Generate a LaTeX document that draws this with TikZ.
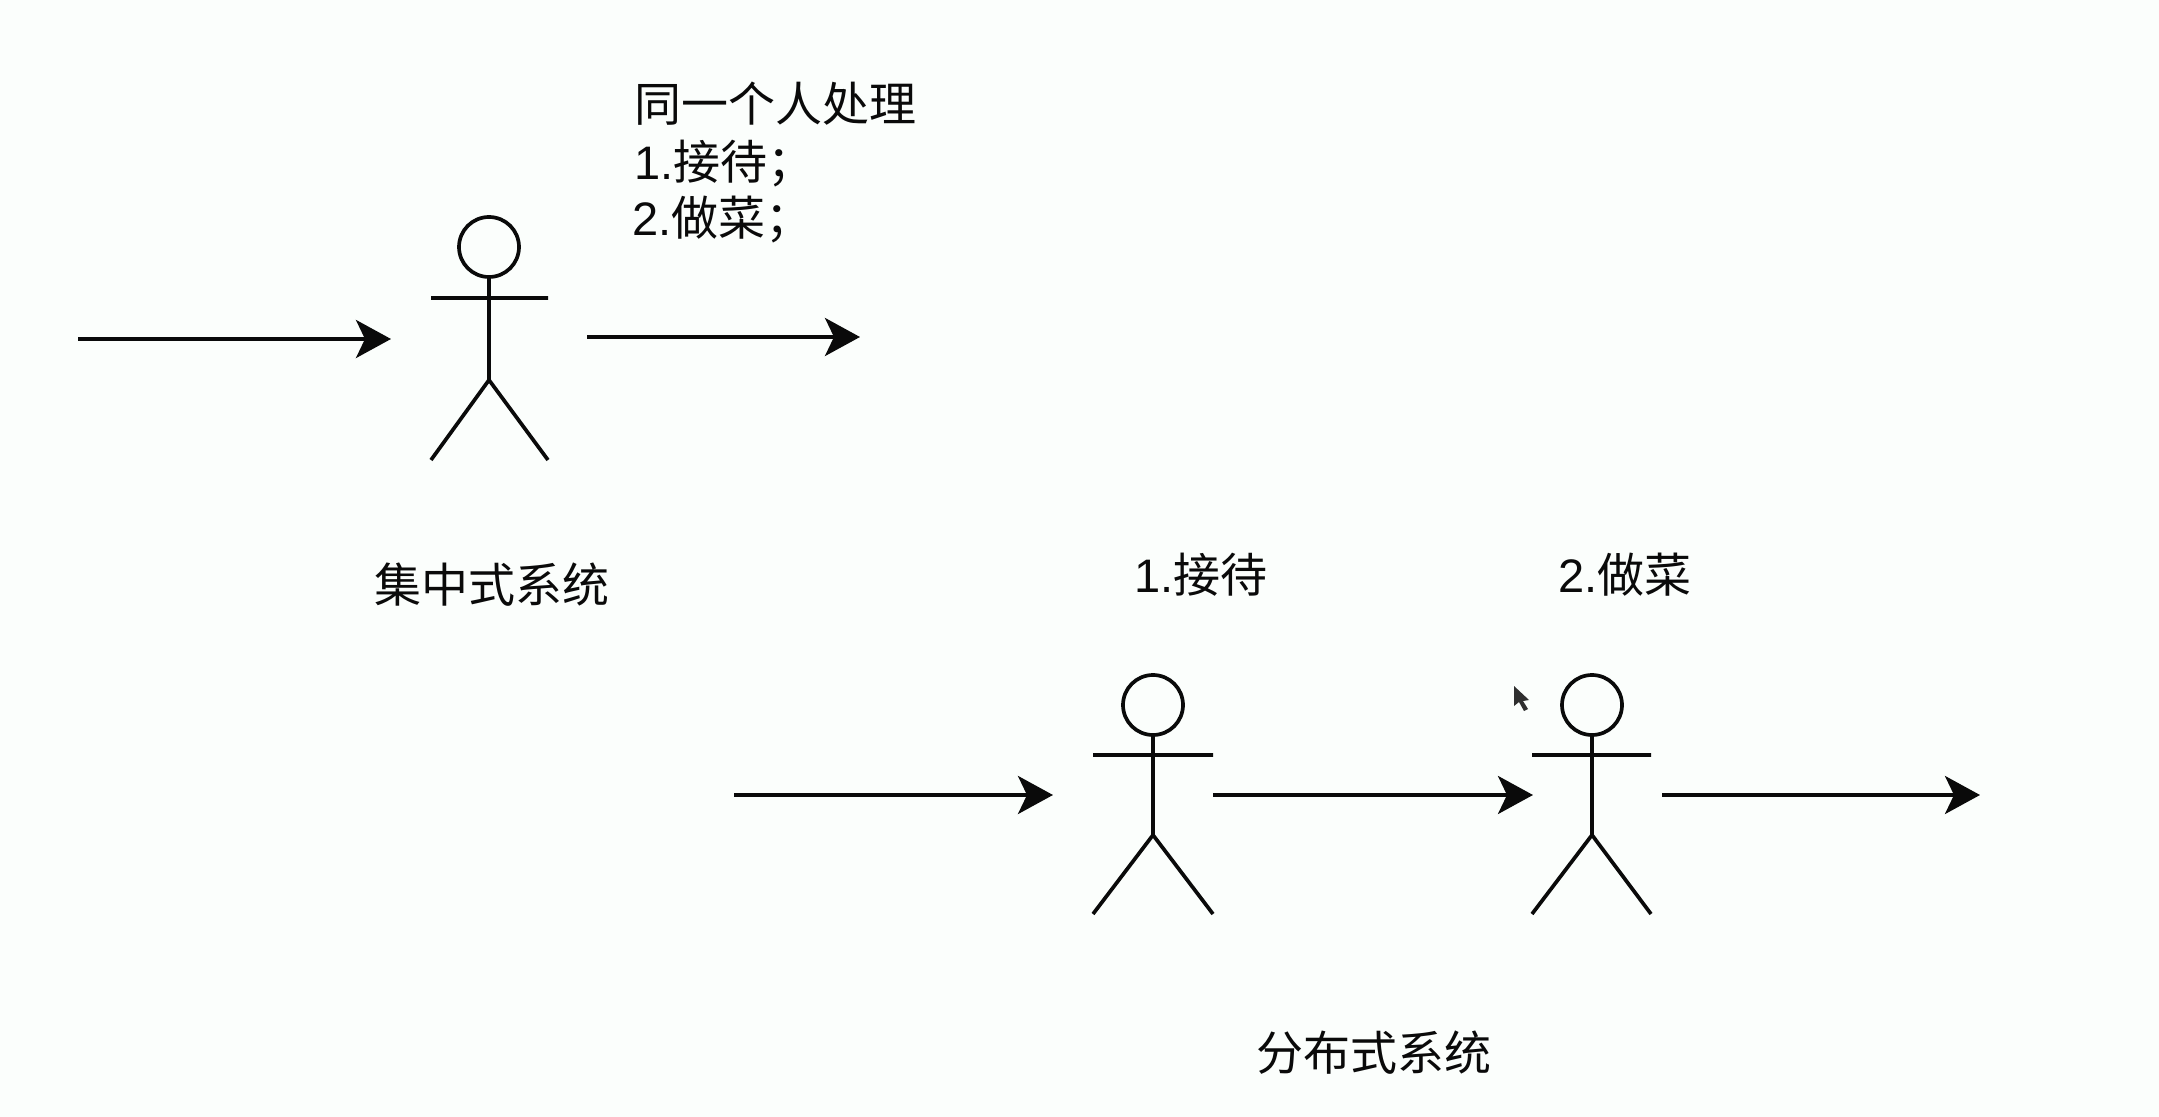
\documentclass[tikz,border=0pt]{standalone}
\usepackage{fontspec}
\usetikzlibrary{arrows.meta}
\setmainfont{Liberation Sans}
\newfontfamily\cjk{Noto Sans CJK SC}
\definecolor{bgc}{HTML}{FBFEFC}
\definecolor{ink}{HTML}{0A0A0A}
\tikzset{
  line/.style={draw=ink,line width=1.85pt},
  flow/.style={line,-{Stealth[length=17.5pt,width=19pt,inset=4.5pt]}},
  label/.style={inner sep=0pt,anchor=base west,text=ink,font=\fontsize{23.5}{23.5}\selectfont},
  head/.style={circle,line,minimum size=30pt,inner sep=0pt},
}
\begin{document}
\begin{tikzpicture}[x=0.5pt,y=-0.5pt]
\fill[bgc] (0,0) rectangle (2159,1117);
\useasboundingbox (0,0) rectangle (2159,1117);
% actor 1
\node[head] (h1) at (489,247) {};
\coordinate (al1) at (431,298);
\coordinate (ar1) at (548,298);
\coordinate (b1) at (489,380);
\coordinate (ll1) at (431,460);
\coordinate (lr1) at (548,460);
\draw[line] (h1.south) -- (b1) (al1) -- (ar1) (ll1) -- (b1) -- (lr1);
% actor 2
\node[head] (h2) at (1153,705) {};
\coordinate (al2) at (1093,755);
\coordinate (ar2) at (1213,755);
\coordinate (b2) at (1153,835);
\coordinate (ll2) at (1093,914);
\coordinate (lr2) at (1213,914);
\draw[line] (h2.south) -- (b2) (al2) -- (ar2) (ll2) -- (b2) -- (lr2);
% actor 3
\node[head] (h3) at (1592,705) {};
\coordinate (al3) at (1532,755);
\coordinate (ar3) at (1651,755);
\coordinate (b3) at (1592,835);
\coordinate (ll3) at (1532,914);
\coordinate (lr3) at (1651,914);
\draw[line] (h3.south) -- (b3) (al3) -- (ar3) (ll3) -- (b3) -- (lr3);
% arrows
\coordinate (a1s) at (78,339); \coordinate (a1e) at (391,339);
\coordinate (a2s) at (587,337); \coordinate (a2e) at (860,337);
\coordinate (a3s) at (734,795); \coordinate (a3e) at (1053,795);
\coordinate (a4s) at (1213,795); \coordinate (a4e) at (1533,795);
\coordinate (a5s) at (1662,795); \coordinate (a5e) at (1980,795);
\draw[flow] (a1s) -- (a1e);
\draw[flow] (a2s) -- (a2e);
\draw[flow] (a3s) -- (a3e);
\draw[flow] (a4s) -- (a4e);
\draw[flow] (a5s) -- (a5e);
% labels
\node[label] (t1) at (634,122) {\cjk 同一个人处理};
\node[label] (t2) at (634,180) {1.{\cjk 接待；}};
\node[label] (t3) at (632,236) {2.{\cjk 做菜；}};
\node[label] (t4) at (374,603) {\cjk 集中式系统};
\node[label] (t5) at (1134,592) {1.{\cjk 接待}};
\node[label] (t6) at (1558,592) {2.{\cjk 做菜}};
\node[label] (t7) at (1256,1070) {\cjk 分布式系统};
% pointer
\fill[ink!85] (1514,686) -- (1514,706) -- (1519,702) -- (1524,711) -- (1528,709) -- (1523,701) -- (1529,700) -- cycle;
\end{tikzpicture}
\end{document}
